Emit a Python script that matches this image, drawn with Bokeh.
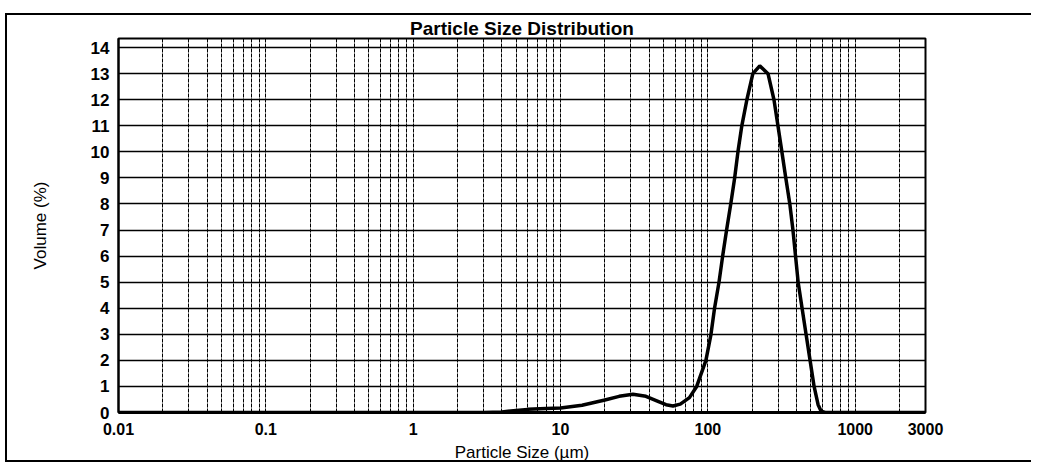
from bokeh.plotting import figure
from bokeh.models import FixedTicker, Range1d
from bokeh.embed import file_html
from bokeh.resources import INLINE

# Particle size (µm) and volume (%)
size_um = [0.01, 0.1, 1, 3, 4, 5, 6, 8, 10, 14, 20, 25, 31, 38, 45, 52, 58, 65, 75,
           84, 97, 105, 111, 119, 126, 134, 143, 152, 160, 170, 184, 202, 225,
           256, 281, 299, 318, 338, 360, 378, 410, 436, 464, 494, 526, 560, 587, 625,
           1000, 3000]
volume_pct = [0, 0, 0, 0, 0.02, 0.08, 0.12, 0.15, 0.17, 0.28, 0.48, 0.62, 0.7, 0.62, 0.45, 0.3, 0.25, 0.32, 0.57,
              1.0, 2.0, 3.0, 4.0, 5.0, 6.0, 7.0, 8.0, 9.0, 10.0, 11.0, 12.0, 13.0, 13.3,
              13.0, 12.0, 11.0, 10.0, 9.0, 8.0, 7.0, 5.0, 4.0, 3.0, 2.0, 1.0, 0.3, 0.05, 0,
              0, 0]

x_major_ticks = [0.01, 0.1, 1, 10, 100, 1000, 3000]
x_tick_labels = {0.01: "0.01", 0.1: "0.1", 1: "1", 10: "10", 100: "100", 1000: "1000", 3000: "3000"}
y_ticks = list(range(0, 15))
decades = [0.01, 0.1, 1, 10, 100, 1000]
x_minor_ticks = [d * m for d in decades for m in range(2, 10) if d * m < 3000]

p = figure(width=1026, height=449, x_axis_type="log",
           x_range=Range1d(0.01, 3000), y_range=Range1d(0, 14.35),
           output_backend="svg", toolbar_location=None,
           min_border_left=111, min_border_right=108, min_border_top=18, min_border_bottom=45,
           title="Particle Size Distribution")
p.styles = {"margin-top": "13px", "margin-left": "5px",
            "border-left": "2px solid #000", "border-top": "2px solid #000",
            "border-bottom": "2px solid #000"}

p.title.align = "center"
p.title.text_font = "Liberation Sans"
p.title.text_font_style = "bold"
p.title.text_font_size = "19px"
p.title.text_color = "black"
p.title.standoff = 0
p.title.offset = 0

p.line(size_um, volume_pct, line_color="black", line_width=3.5)

p.xaxis.ticker = FixedTicker(ticks=x_major_ticks, minor_ticks=x_minor_ticks)
p.xaxis.major_label_overrides = x_tick_labels
p.yaxis.ticker = FixedTicker(ticks=y_ticks)

for ax in (p.xaxis[0], p.yaxis[0]):
    ax.major_tick_out = 0
    ax.major_tick_in = 0
    ax.minor_tick_out = 0
    ax.minor_tick_in = 0
    ax.axis_line_color = "black"
    ax.major_label_text_font = "Liberation Sans"
    ax.major_label_text_font_style = "bold"
    ax.major_label_text_color = "black"
    ax.axis_label_text_font = "Liberation Sans"
    ax.axis_label_text_font_style = "normal"
    ax.axis_label_text_color = "black"
    ax.axis_label_text_font_size = "17px"

p.xaxis.axis_line_width = 3
p.yaxis.axis_line_width = 2
p.xaxis.major_label_text_font_size = "16px"
p.yaxis.major_label_text_font_size = "17px"
p.xaxis.major_label_standoff = 10
p.yaxis.major_label_standoff = 9
p.xaxis.axis_label = "Particle Size (µm)"
p.yaxis.axis_label = "Volume (%)"
p.xaxis.axis_label_standoff = 5
p.yaxis.axis_label_standoff = 38

p.xgrid.grid_line_color = "black"
p.xgrid.grid_line_width = 1
p.xgrid.grid_line_dash = "4 1"
p.xgrid.minor_grid_line_color = "black"
p.xgrid.minor_grid_line_width = 1
p.xgrid.minor_grid_line_dash = "4 1"
p.ygrid.grid_line_color = "black"
p.ygrid.grid_line_width = 1.5
p.ygrid.grid_line_alpha = 1

p.outline_line_color = "black"
p.outline_line_width = 2
p.background_fill_color = "white"
p.border_fill_color = "white"

open("out.html", "w").write(file_html(p, INLINE))
